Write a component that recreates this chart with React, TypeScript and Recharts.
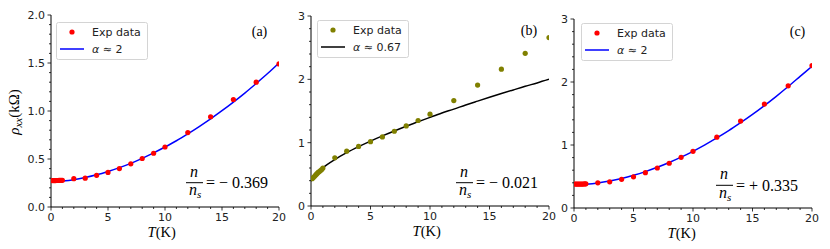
import React from "react";
import { ComposedChart, Scatter, Line, XAxis, YAxis, Legend } from "recharts";

// Measured temperatures (K) – same grid in all three panels
const T_EXP = [0.1, 0.2, 0.3, 0.4, 0.5, 0.6, 0.7, 0.8, 0.9, 1, 2, 3, 4, 5, 6, 7, 8, 9, 10, 12, 14, 16, 18, 20];
const RHO_EXP_A = [0.275, 0.275, 0.275, 0.275, 0.276, 0.276, 0.277, 0.277, 0.278, 0.278, 0.295, 0.3, 0.33, 0.36, 0.4, 0.45, 0.505, 0.56, 0.625, 0.775, 0.94, 1.12, 1.3, 1.49];
const RHO_EXP_B = [0.43, 0.45, 0.47, 0.49, 0.51, 0.53, 0.545, 0.56, 0.575, 0.6, 0.76, 0.865, 0.94, 1.015, 1.09, 1.18, 1.265, 1.35, 1.45, 1.665, 1.91, 2.16, 2.41, 2.66];
const RHO_EXP_C = [0.38, 0.38, 0.38, 0.38, 0.38, 0.38, 0.38, 0.381, 0.382, 0.383, 0.4, 0.415, 0.455, 0.495, 0.56, 0.635, 0.71, 0.805, 0.9, 1.125, 1.38, 1.65, 1.94, 2.26];

// Fit curves
const T_FIT = [0, 0.1, 0.25, 0.5, 1, 2, 3, 4, 5, 6, 7, 8, 9, 10, 11, 12, 13, 14, 15, 16, 17, 18, 19, 20];
const FIT_A = [0.265, 0.265, 0.265, 0.266, 0.271, 0.285, 0.307, 0.335, 0.37, 0.41, 0.455, 0.507, 0.564, 0.625, 0.69, 0.762, 0.838, 0.918, 1.003, 1.093, 1.187, 1.287, 1.39, 1.5];
const FIT_B = [0.39, 0.436, 0.475, 0.526, 0.606, 0.734, 0.842, 0.937, 1.025, 1.107, 1.185, 1.26, 1.33, 1.4, 1.468, 1.53, 1.595, 1.656, 1.716, 1.775, 1.833, 1.89, 1.943, 2.0];
const FIT_C = [0.37, 0.37, 0.37, 0.371, 0.378, 0.398, 0.429, 0.469, 0.519, 0.578, 0.646, 0.722, 0.807, 0.9, 1.002, 1.112, 1.228, 1.354, 1.486, 1.626, 1.773, 1.928, 2.089, 2.25];

// Ticks
const X_MAJOR = [0, 5, 10, 15, 20];
const X_ALL = [0, 1, 2, 3, 4, 5, 6, 7, 8, 9, 10, 11, 12, 13, 14, 15, 16, 17, 18, 19, 20];
const Y_MAJOR_A = [0, 0.5, 1, 1.5, 2];
const Y_ALL_A = [0, 0.1, 0.2, 0.3, 0.4, 0.5, 0.6, 0.7, 0.8, 0.9, 1, 1.1, 1.2, 1.3, 1.4, 1.5, 1.6, 1.7, 1.8, 1.9, 2];
const Y_MAJOR_BC = [0, 1, 2, 3];
const Y_ALL_BC = [0, 0.2, 0.4, 0.6, 0.8, 1, 1.2, 1.4, 1.6, 1.8, 2, 2.2, 2.4, 2.6, 2.8, 3];

const FIT_LABELS = ["\u03b1 \u2248 2", "\u03b1 \u2248 0.67", "\u03b1 \u2248 2"];
const PANEL_TAGS = ["(a)", "(b)", "(c)"];
const RATIOS = ["= \u2212 0.369", "= \u2212 0.021", "= + 0.335"];

const TICK_FONT = "'DejaVu Sans', sans-serif";
const SERIF = "'Liberation Serif', 'DejaVu Serif', serif";

const zip = (xs: number[], ys: number[]) => xs.map((t, i) => ({ t, rho: ys[i] }));
const isIn = (arr: number[], v: number) => arr.some((m) => Math.abs(m - v) < 1e-6);

function BottomTick({ x, y, payload, major }: any) {
  const big = isIn(major, payload.value);
  return (
    <g>
      <line x1={x} y1={y} x2={x} y2={y + (big ? 3.5 : 2)} stroke="#000" strokeWidth={0.8} />
      {big && (
        <text x={x} y={y + 13.5} textAnchor="middle" fontSize={11} fontFamily={TICK_FONT} fill="#222">
          {payload.value}
        </text>
      )}
    </g>
  );
}

function LeftTick({ x, y, payload, major, digits }: any) {
  const big = isIn(major, payload.value);
  return (
    <g>
      <line x1={x} y1={y} x2={x - (big ? 3.5 : 2)} y2={y} stroke="#000" strokeWidth={0.8} />
      {big && (
        <text x={x - 6} y={y + 4} textAnchor="end" fontSize={11} fontFamily={TICK_FONT} fill="#222">
          {payload.value.toFixed(digits)}
        </text>
      )}
    </g>
  );
}

function LegendBox({ dotColor, lineColor, label }: { dotColor: string; lineColor: string; label: string }) {
  const [alpha, rest] = [label.slice(0, 1), label.slice(1)];
  return (
    <svg width={92} height={38} style={{ display: "block" }}>
      <rect x={0.5} y={0.5} width={91} height={37} rx={2} fill="rgba(255,255,255,0.85)" stroke="#d4d4d4" />
      <circle cx={16} cy={10} r={2.6} fill={dotColor} />
      <text x={36} y={14} fontSize={11} fontFamily={TICK_FONT} fill="#222">Exp data</text>
      <line x1={4} y1={27} x2={28} y2={27} stroke={lineColor} strokeWidth={1.5} />
      <text x={36} y={31} fontSize={11} fontFamily={TICK_FONT} fill="#222">
        <tspan fontStyle="italic">{alpha}</tspan>
        {rest}
      </text>
    </svg>
  );
}

interface PanelProps {
  left: number;
  width: number;
  plotLeft: number;
  plotRight: number;
  plotTop: number;
  plotBottom: number;
  yMax: number;
  yMajor: number[];
  yAll: number[];
  digits: number;
  exp: number[];
  fit: number[];
  dotColor: string;
  lineColor: string;
  legendLeft: number;
  legendTop: number;
  label: string;
}

function Panel(p: PanelProps) {
  const expData = zip(T_EXP, p.exp);
  const fitData = zip(T_FIT, p.fit);
  return (
    <div style={{ position: "absolute", left: p.left, top: 0 }}>
      <ComposedChart
        width={p.width}
        height={249}
        margin={{ top: p.plotTop, right: p.left + p.width - p.plotRight, bottom: 0, left: 0 }}
      >
        <XAxis
          dataKey="t"
          type="number"
          domain={[0, 20]}
          ticks={X_ALL}
          interval={0}
          tickSize={0}
          tickMargin={0}
          tickLine={false}
          height={249 - p.plotBottom}
          axisLine={{ stroke: "#000", strokeWidth: 1 }}
          tick={<BottomTick major={X_MAJOR} />}
          allowDataOverflow
        />
        <XAxis
          xAxisId="top"
          orientation="top"
          type="number"
          domain={[0, 20]}
          height={0}
          tick={false}
          tickLine={false}
          axisLine={{ stroke: "#000", strokeWidth: 1 }}
        />
        <YAxis
          dataKey="rho"
          type="number"
          domain={[0, p.yMax]}
          ticks={p.yAll}
          interval={0}
          tickSize={0}
          tickMargin={0}
          tickLine={false}
          width={p.plotLeft - p.left}
          axisLine={{ stroke: "#000", strokeWidth: 1 }}
          tick={<LeftTick major={p.yMajor} digits={p.digits} />}
          allowDataOverflow
        />
        <YAxis
          yAxisId="right"
          orientation="right"
          type="number"
          domain={[0, p.yMax]}
          width={0}
          tick={false}
          tickLine={false}
          axisLine={{ stroke: "#000", strokeWidth: 1 }}
        />
        <Scatter
          data={expData}
          dataKey="rho"
          fill={p.dotColor}
          isAnimationActive={false}
          shape={(s: any) => <circle cx={s.cx} cy={s.cy} r={2.6} fill={p.dotColor} />}
        />
        <Line
          data={fitData}
          dataKey="rho"
          type="monotone"
          stroke={p.lineColor}
          strokeWidth={1.5}
          dot={false}
          activeDot={false}
          isAnimationActive={false}
        />
        <Legend
          layout="vertical"
          align="center"
          verticalAlign="middle"
          wrapperStyle={{ left: p.legendLeft - p.left, top: p.legendTop, width: 92, height: 38 }}
          content={() => <LegendBox dotColor={p.dotColor} lineColor={p.lineColor} label={p.label} />}
        />
      </ComposedChart>
    </div>
  );
}

function Ratio({ x, barY, text }: { x: number; barY: number; text: string }) {
  return (
    <g fontFamily={SERIF} fill="#000">
      <text x={x + 8} y={barY - 6} fontSize={16} fontStyle="italic" textAnchor="middle">n</text>
      <line x1={x} y1={barY} x2={x + 17} y2={barY} stroke="#000" strokeWidth={1} />
      <text x={x + 3} y={barY + 12.5} fontSize={16} fontStyle="italic">
        n<tspan fontSize={11} dy={3}>s</tspan>
      </text>
      <text x={x + 20} y={barY + 5.6} fontSize={16}>{text}</text>
    </g>
  );
}

export default function App() {
  const red = "#ff0000";
  const blue = "#0000ff";
  const olive = "#808000";
  return (
    <div style={{ position: "absolute", left: 0, top: 0, width: 830, height: 249, background: "#fff" }}>
      <Panel
        left={0} width={290} plotLeft={51} plotRight={279} plotTop={15} plotBottom={207}
        yMax={2} yMajor={Y_MAJOR_A} yAll={Y_ALL_A} digits={1}
        exp={RHO_EXP_A} fit={FIT_A} dotColor={red} lineColor={blue}
        legendLeft={56} legendTop={22} label={FIT_LABELS[0]}
      />
      <Panel
        left={290} width={270} plotLeft={311} plotRight={549} plotTop={16} plotBottom={206}
        yMax={3} yMajor={Y_MAJOR_BC} yAll={Y_ALL_BC} digits={0}
        exp={RHO_EXP_B} fit={FIT_B} dotColor={olive} lineColor="#000"
        legendLeft={317} legendTop={20} label={FIT_LABELS[1]}
      />
      <Panel
        left={560} width={270} plotLeft={574} plotRight={812} plotTop={19} plotBottom={208}
        yMax={3} yMajor={Y_MAJOR_BC} yAll={Y_ALL_BC} digits={0}
        exp={RHO_EXP_C} fit={FIT_C} dotColor={red} lineColor={blue}
        legendLeft={581} legendTop={23} label={FIT_LABELS[2]}
      />
      <svg width={830} height={249} style={{ position: "absolute", left: 0, top: 0, pointerEvents: "none" }}>
        <g fontFamily={SERIF} fill="#000">
          <text x={259.5} y={36} fontSize={14} textAnchor="middle">{PANEL_TAGS[0]}</text>
          <text x={529} y={35} fontSize={14} textAnchor="middle">{PANEL_TAGS[1]}</text>
          <text x={797.5} y={36} fontSize={14} textAnchor="middle">{PANEL_TAGS[2]}</text>

          <text x={161.7} y={236.5} fontSize={14.5} textAnchor="middle">
            <tspan fontStyle="italic">T</tspan>(K)
          </text>
          <text x={426.7} y={235.5} fontSize={14.5} textAnchor="middle">
            <tspan fontStyle="italic">T</tspan>(K)
          </text>
          <text x={681.7} y={237.5} fontSize={14.5} textAnchor="middle">
            <tspan fontStyle="italic">T</tspan>(K)
          </text>

          <text transform="translate(19,112) rotate(-90)" fontSize={15} textAnchor="middle">
            <tspan fontStyle="italic">{"\u03c1"}</tspan>
            <tspan fontStyle="italic" fontSize={11} dy={3}>xx</tspan>
            <tspan dy={-3}>(k{"\u03a9"})</tspan>
          </text>
        </g>
        <Ratio x={186} barY={182.7} text={RATIOS[0]} />
        <Ratio x={456} barY={182.7} text={RATIOS[1]} />
        <Ratio x={716} barY={185.3} text={RATIOS[2]} />
      </svg>
    </div>
  );
}
